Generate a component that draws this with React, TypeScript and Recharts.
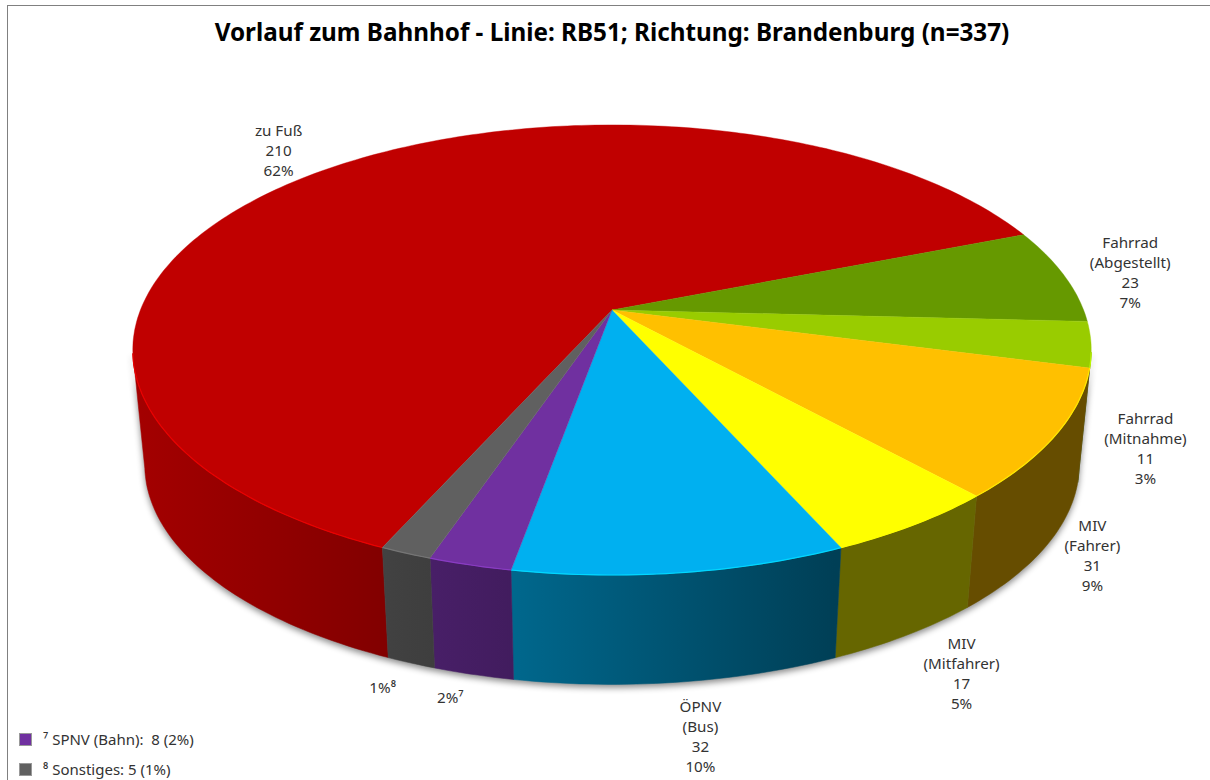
import { PieChart, Pie, Cell, Legend } from 'recharts';

const categories = ['zu Fuß', 'Fahrrad (Abgestellt)', 'Fahrrad (Mitnahme)', 'MIV (Fahrer)', 'MIV (Mitfahrer)', 'ÖPNV (Bus)', 'SPNV (Bahn)', 'Sonstiges'];
const counts = [210, 23, 11, 31, 17, 32, 8, 5];
const percents = [62, 7, 3, 9, 5, 10, 2, 1];
const labelLines = [
    ['zu Fuß', '210', '62%'],
    ['Fahrrad', '(Abgestellt)', '23', '7%'],
    ['Fahrrad', '(Mitnahme)', '11', '3%'],
    ['MIV', '(Fahrer)', '31', '9%'],
    ['MIV', '(Mitfahrer)', '17', '5%'],
    ['ÖPNV', '(Bus)', '32', '10%'],
    ['2%⁷'],
    ['1%⁸'],
];
const COLORS = ['#c00000', '#669900', '#99cc00', '#ffc000', '#ffff00', '#00b0f0', '#7030a0', '#606060'];
const footnotes = [
    { index: 6, text: '⁷ SPNV (Bahn):  8 (2%)' },
    { index: 7, text: '⁸ Sonstiges: 5 (1%)' },
];

const data = categories.map((name, i) => ({ name, value: counts[i], percent: percents[i] }));

// the pie is a real circle seen in perspective, these map it to the screen
const DIST = 5.63;
const FX = 2655;
const FY = 1227;
const WALL = 116;
const WALL_SCALE = 0.975;
const WALL_FROM = 0.178; // where the rim turns towards the viewer
const RAD = Math.PI / 180;

// label centre = projected mid angle + this nudge
const labelNudge = [[-19, -8], [22, 0], [5, 100], [-13, 106], [11, 123], [11, 131], [-2, 101], [2, 104]];

function project(cx: number, cy: number, angle: number, k = 1) {
    const X = k * Math.cos(angle * RAD);
    const Y = -k * Math.sin(angle * RAD);
    return { x: cx + (FX * X) / (DIST - Y), y: cy + (FY * Y) / (DIST - Y), Y };
}

function lower(p: { x: number; y: number }, cx: number, cy: number) {
    return { x: cx + WALL_SCALE * (p.x - cx), y: cy + WALL + WALL_SCALE * (p.y - cy) };
}

function steps(from: number, to: number, size: number) {
    const n = Math.max(1, Math.ceil(Math.abs(to - from) / size));
    return Array.from({ length: n + 1 }, (_, i) => from + ((to - from) * i) / n);
}

function scaleColor(hex: string, f: number) {
    const ch = [1, 3, 5].map(i => Math.min(255, Math.round(parseInt(hex.slice(i, i + 2), 16) * f)));
    return `rgb(${ch[0]},${ch[1]},${ch[2]})`;
}

function TopFace(props: any) {
    const { cx, cy, startAngle, endAngle, fill } = props;
    const arc = steps(startAngle, endAngle, 1).map(a => project(cx, cy, a));
    const d = `M${cx},${cy}` + arc.map(p => `L${p.x.toFixed(1)},${p.y.toFixed(1)}`).join('') + 'Z';
    const rim = arc.filter(p => p.Y > WALL_FROM);
    return (
        <g>
            <path d={d} fill={fill} stroke={fill} strokeWidth={0.4} />
            {rim.length > 1 && (
                <polyline
                    points={rim.map(p => `${p.x.toFixed(1)},${p.y.toFixed(1)}`).join(' ')}
                    fill="none"
                    stroke={scaleColor(fill, 1.22)}
                    strokeWidth={1.2}
                />
            )}
        </g>
    );
}

function SideWall(props: any) {
    const { cx, cy, startAngle, endAngle, fill } = props;
    const top = steps(startAngle, endAngle, 1).map(a => project(cx, cy, a)).filter(p => p.Y >= WALL_FROM);
    if (top.length < 2) return null;
    const bottom = top.map(p => lower(p, cx, cy)).reverse();
    const d = 'M' + [...top, ...bottom].map(p => `${p.x.toFixed(1)},${p.y.toFixed(1)}`).join('L') + 'Z';
    const warm = fill === '#ffc000' || fill === '#ffff00';
    const id = `wall-${fill.slice(1)}`;
    return (
        <g>
            <defs>
                <linearGradient id={id} gradientUnits="userSpaceOnUse" x1={140} x2={835} y1={0} y2={0}>
                    <stop offset="0" stopColor={scaleColor(fill, warm ? 0.4 : 0.85)} />
                    <stop offset="1" stopColor={scaleColor(fill, warm ? 0.4 : 0.36)} />
                </linearGradient>
            </defs>
            <path d={d} fill={`url(#${id})`} stroke={`url(#${id})`} strokeWidth={0.5} />
        </g>
    );
}

function PieLabel(props: any) {
    const { cx, cy, midAngle, index } = props;
    const p = project(cx, cy, midAngle, 1.1);
    const lines = labelLines[index];
    const x = p.x + labelNudge[index][0];
    const y = p.y + labelNudge[index][1] - ((lines.length - 1) * 20) / 2;
    return (
        <text x={x} y={y} textAnchor="middle" dominantBaseline="central" fill="#333" fontSize={15.2} fontFamily="'Noto Sans', sans-serif">
            {lines.map((line, i) => (
                <tspan key={i} x={x} y={y + i * 20}>{line}</tspan>
            ))}
        </text>
    );
}

function Footnotes() {
    return (
        <div style={{ fontFamily: "'Noto Sans', sans-serif", fontSize: 15, color: '#333' }}>
            {footnotes.map(f => (
                <div key={f.index} style={{ display: 'flex', alignItems: 'center', height: 30, whiteSpace: 'pre' }}>
                    <span style={{ width: 13, height: 13, marginRight: 11, background: COLORS[f.index], border: '1px solid #999', boxSizing: 'border-box' }} />
                    {f.text}
                </div>
            ))}
        </div>
    );
}

export default function App() {
    const pieProps = {
        data,
        dataKey: 'value',
        nameKey: 'name',
        cx: 612,
        cy: 310,
        outerRadius: 480,
        startAngle: 245.93,
        endAngle: -114.07,
        stroke: 'none',
        isAnimationActive: false,
    };
    const cells = data.map((entry, index) => <Cell key={`cell-${index}`} fill={COLORS[index]} />);

    return (
        <div style={{ position: 'absolute', left: 0, top: 0, width: 1210, height: 780, background: '#fff', overflow: 'hidden' }}>
            <style>{`.pie-walls { filter: drop-shadow(0 3px 3px rgba(0,0,0,0.45)); }`}</style>
            <div style={{ position: 'absolute', left: 7, top: 5, width: 1210, height: 800, border: '1px solid #808080' }} />
            <div
                style={{
                    position: 'absolute',
                    left: 0,
                    top: 15,
                    width: 1224,
                    textAlign: 'center',
                    fontFamily: "'Noto Sans', sans-serif",
                    fontWeight: 700,
                    fontSize: 24.25,
                    lineHeight: '34px',
                    color: '#000',
                }}
            >
                Vorlauf zum Bahnhof - Linie: RB51; Richtung: Brandenburg (n=337)
            </div>
            <PieChart width={1210} height={780} margin={{ top: 0, right: 0, bottom: 0, left: 0 }} style={{ position: 'absolute', left: 0, top: 0 }}>
                <Pie {...pieProps} className="pie-walls" shape={SideWall} label={false} labelLine={false}>
                    {cells}
                </Pie>
                <Pie {...pieProps} shape={TopFace} label={PieLabel} labelLine={false}>
                    {cells}
                </Pie>
                <Legend content={Footnotes} wrapperStyle={{ left: 19, top: 724, bottom: 'auto', width: 300 }} />
            </PieChart>
        </div>
    );
}
